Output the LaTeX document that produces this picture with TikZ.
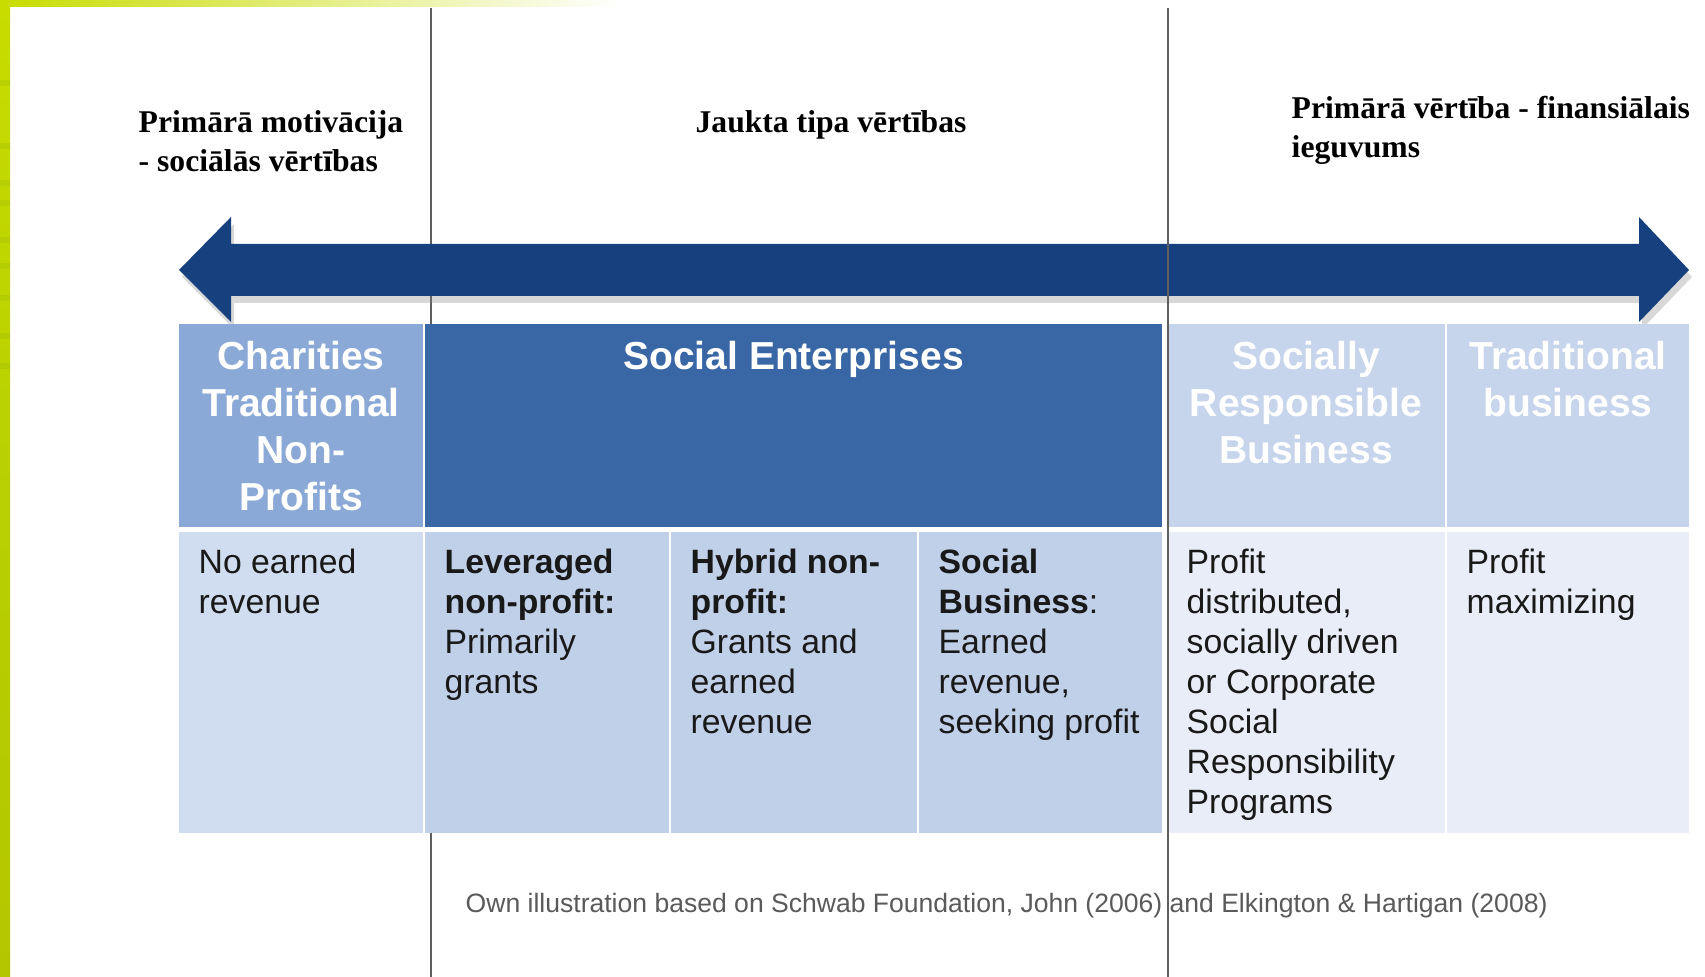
\documentclass[tikz,border=0pt]{standalone}
\usepackage{fontspec}
\setmainfont{Liberation Sans}
\newfontfamily\titlefont{Liberation Serif}
\usetikzlibrary{positioning,shadows}

\definecolor{arrowblue}{RGB}{23,65,126}
\definecolor{charityblue}{RGB}{139,169,214}
\definecolor{enterblue}{RGB}{57,102,165}
\definecolor{paleblue}{RGB}{198,212,236}
\definecolor{charitybody}{RGB}{208,220,239}
\definecolor{enterbody}{RGB}{191,208,232}
\definecolor{palebody}{RGB}{232,237,247}
\definecolor{leafgreen}{RGB}{200,220,0}
\definecolor{leafdark}{RGB}{120,160,10}
\definecolor{divider}{RGB}{95,95,95}
\definecolor{notegray}{RGB}{90,90,90}

\begin{document}
\begin{tikzpicture}[x=0.01cm, y=-0.01cm,
    cell/.style = {rectangle, inner sep=0pt, outer sep=0mm, minimum height=#1},
    headtext/.style = {inner sep=0pt, align=center, text=white,
        font=\bfseries\fontsize{11.1}{13.4}\selectfont},
    bodytext/.style = {inner sep=0pt, align=left, text=black!90,
        font=\fontsize{9.6}{11.4}\selectfont},
    toptext/.style = {inner sep=0pt, align=left,
        font=\titlefont\bfseries\fontsize{9}{11.1}\selectfont}]
\useasboundingbox (0,0) rectangle (1705,977);
\fill[white] (0,0) rectangle (1705,977);
% green slide border
\shade[top color=leafgreen, bottom color=leafgreen!90!black, middle color=leafgreen!80!leafdark] (0,0) rectangle (10,977);
\foreach \y in {80, 143, 180, 200, 237, 263, 295, 333, 363}
    \fill[leafdark, opacity=0.15] (0,\y) rectangle (10,\y+6);
\shade[left color=leafgreen, right color=white] (0,0) rectangle (620,7);
% first divider, behind arrow and table
\draw[divider, line width=0.45pt] (431,8) -- (431,324) (431,833) -- (431,977);
% arrow
\fill[arrowblue, drop shadow={shadow xshift=0.3mm, shadow yshift=-0.7mm, opacity=0.3}]
    (179,270) -- (231,217) -- (231,244) -- (1639,244) -- (1639,217) -- (1689,270)
    -- (1639,322) -- (1639,296) -- (231,296) -- (231,322) -- cycle;
% header row
\foreach \nm/\xa/\xb/\clr in {hdCharity/179/423/charityblue, hdSocEnt/425/1162/enterblue,
                              hdCSR/1167/1445/paleblue, hdTrad/1447/1689/paleblue}
    \node[cell=2.03cm, fill=\clr, minimum width={(\xb-\xa)*0.01cm}] (\nm) at ({(\xa+\xb)/2}, 425.5) {};
% body row
\foreach \nm/\xa/\xb/\clr in {bdCharity/179/423/charitybody, bdLever/425/669/enterbody,
                              bdHybrid/671/917/enterbody, bdSocBus/919/1162/enterbody,
                              bdCSR/1167/1445/palebody, bdTrad/1447/1689/palebody}
    \node[cell=3.01cm, fill=\clr, minimum width={(\xb-\xa)*0.01cm}] (\nm) at ({(\xa+\xb)/2}, 682.5) {};
% header labels (base = last line)
\foreach \nm/\n/\txt in {hdCharity/4/{Charities\\Traditional\\Non-\\Profits}, hdSocEnt/1/{Social Enterprises},
                         hdCSR/3/{Socially\\Responsible\\Business}, hdTrad/2/{Traditional\\business}}
    \node[headtext, anchor=base] (\nm-text) at ([yshift={-(46+(\n-1)*47)*0.01cm}]\nm.north) {\txt};
% body labels (base = last line)
\foreach \nm/\n/\txt in {bdCharity/2/{No earned\\revenue},
                         bdLever/4/{\textbf{Leveraged}\\\textbf{non-profit:}\\Primarily\\grants},
                         bdHybrid/5/{\textbf{Hybrid non-}\\\textbf{profit:}\\Grants and\\earned\\revenue},
                         bdSocBus/5/{\textbf{Social}\\\textbf{Business}:\\Earned\\revenue,\\seeking profit},
                         bdCSR/7/{Profit\\distributed,\\socially driven\\or Corporate\\Social\\Responsibility\\Programs},
                         bdTrad/2/{Profit\\maximizing}}
    \node[bodytext, anchor=base west] (\nm-text) at ([xshift=0.19cm, yshift={-(42+(\n-1)*40)*0.01cm}]\nm.north west) {\txt};
% titles above the arrow
\node[toptext, anchor=base west] (social) at (138,172) {Primārā motivācija\\- sociālās vērtības};
\node[toptext, anchor=base] (mixed) at (831,133) {Jaukta tipa vērtības};
\node[toptext, anchor=base west] (profit) at (1291,158) {Primārā vērtība - finansiālais\\ieguvums};
% second divider, on top
\draw[divider, line width=0.45pt] (1168,8) -- (1168,977);
% source note
\node[inner sep=0pt, anchor=base west, text=notegray, font=\fontsize{7.55}{9}\selectfont] (source) at (465,913)
    {Own illustration based on Schwab Foundation, John (2006) and Elkington \& Hartigan (2008)};
\end{tikzpicture}
\end{document}
